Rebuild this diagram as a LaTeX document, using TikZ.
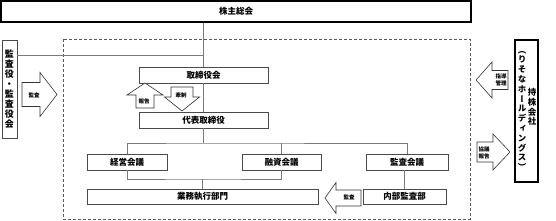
\documentclass[tikz,border=0pt]{standalone}
\usepackage{fontspec}
\usepackage{xcolor}
\usetikzlibrary{positioning}
\setmainfont{Noto Sans CJK JP}
\newfontfamily\vjp[RawFeature=+vert]{Noto Sans CJK JP}
\definecolor{edge}{HTML}{4A4A4A}
\definecolor{wire}{HTML}{7A7A7A}
\definecolor{frame}{HTML}{5A5A5A}
\tikzset{
  orgbox/.style={rectangle, draw=edge, fill=white, line width=0.8pt, inner sep=0pt,
                 font=\fontsize{8.5}{9}\selectfont\bfseries},
  topbox/.style={orgbox, draw=black, line width=1.8pt},
  vtext/.style={inner sep=0pt, align=center, font=\vjp\fontsize{8.5}{9.8}\selectfont\bfseries},
  link/.style={draw=wire, line width=0.7pt},
  arrowline/.style={draw=black!80, fill=white, line width=0.6pt, line join=miter},
  arrlbl/.style={inner sep=0pt, align=center, font=\fontsize{5.5}{7}\selectfont\bfseries},
  % tip at the origin, pointing along +x: length / head length / shaft width / head width
  pics/blockarr/.style args={#1/#2/#3/#4}{code={
    \draw[arrowline] (0,0) -- (-#2,#4/2) -- (-#2,#3/2) -- (-#1,#3/2)
      -- (-#1,-#3/2) -- (-#2,-#3/2) -- (-#2,-#4/2) -- cycle;
  }},
}

\begin{document}
\begin{tikzpicture}[x=1pt, y=-1pt]
\useasboundingbox (0,0) rectangle (556,221);

% group frame
\draw[draw=frame, line width=0.6pt, dash pattern=on 3pt off 2pt] (63,39) rectangle (470,219);

% top and side bodies
\node[topbox, minimum width=470, minimum height=21] (agm) at (236,11.5) {株主総会};
\node[orgbox, minimum width=15, minimum height=98] (audit) at (9.5,89) {};
\node[vtext, font=\vjp\fontsize{9}{10}\selectfont\bfseries] (auditT) at (audit) {監\\査\\役\\・\\監\\査\\役\\会};
\node[topbox, minimum width=23, minimum height=142] (hold) at (526.5,111) {};
\node[vtext] (holdA) at (532,107) {持\\株\\会\\社};
\node[vtext] (holdB) at (522,111) {（\\り\\そ\\な\\ホ\\ー\\ル\\デ\\ィ\\ン\\グ\\ス\\）};

% management
\node[orgbox, minimum width=129, minimum height=16] (board) at (203.5,75) {取締役会};
\node[orgbox, minimum width=129, minimum height=16] (ceo) at (203.5,120) {代表取締役};
\node[orgbox, minimum width=80, minimum height=16] (mgmt) at (127,162) {経営会議};
\node[orgbox, minimum width=79, minimum height=16] (loan) at (281.5,162) {融資会議};
\node[orgbox, minimum width=82, minimum height=16] (audc) at (407,162) {監査会議};
\node[orgbox, minimum width=231, minimum height=15] (exec) at (202.5,196.5) {業務執行部門};
\node[orgbox, minimum width=83, minimum height=15] (iaud) at (404.5,196.5) {内部監査部};

% connectors
\coordinate (jn) at (board.north |- 0,55);
\coordinate (bar) at (ceo.south |- 0,143);
\coordinate (bar2) at (exec.north |- 0,179);
\draw[link] (board.north |- agm.south) -- (board.north);
\draw[link] (audit.east |- jn) -- (jn);
\draw[link] (board.south) -- (ceo.north);
\draw[link] (ceo.south) -- (bar);
\draw[link] (mgmt.north) |- (bar) -| (audc.north);
\draw[link] (loan.north) -- (loan.north |- bar);
\draw[link] (mgmt.south) |- (bar2) -| (loan.south);
\draw[link] (bar2) -- (exec.north);
\draw[link] (iaud.north) -- (iaud.north |- audc.south);

% block arrows
\pic (arrAud) at (57,94.5) {blockarr=35/17/24/44};
\node[arrlbl] (lblAud) at (34,95) {監査};
\pic[rotate=90] (arrRep) at (145,83) {blockarr=25/12/18/36};
\node[arrlbl] (lblRep) at (144,101) {報告};
\pic[rotate=-90] (arrChk) at (182,111) {blockarr=24/14/22/35};
\node[arrlbl] (lblChk) at (181,95) {牽制};
\pic[rotate=180] (arrIa) at (325,198) {blockarr=36/11/16/31};
\node[arrlbl] (lblIa) at (349,197) {監査};
\pic[rotate=180] (arrGd) at (476,80) {blockarr=32/16/19/36};
\node[arrlbl] (lblGd) at (501,80) {指導\\管理};
\pic (arrCs) at (510,152) {blockarr=33/17/20/36};
\node[arrlbl] (lblCs) at (484,153) {協議\\報告};
\end{tikzpicture}
\end{document}
